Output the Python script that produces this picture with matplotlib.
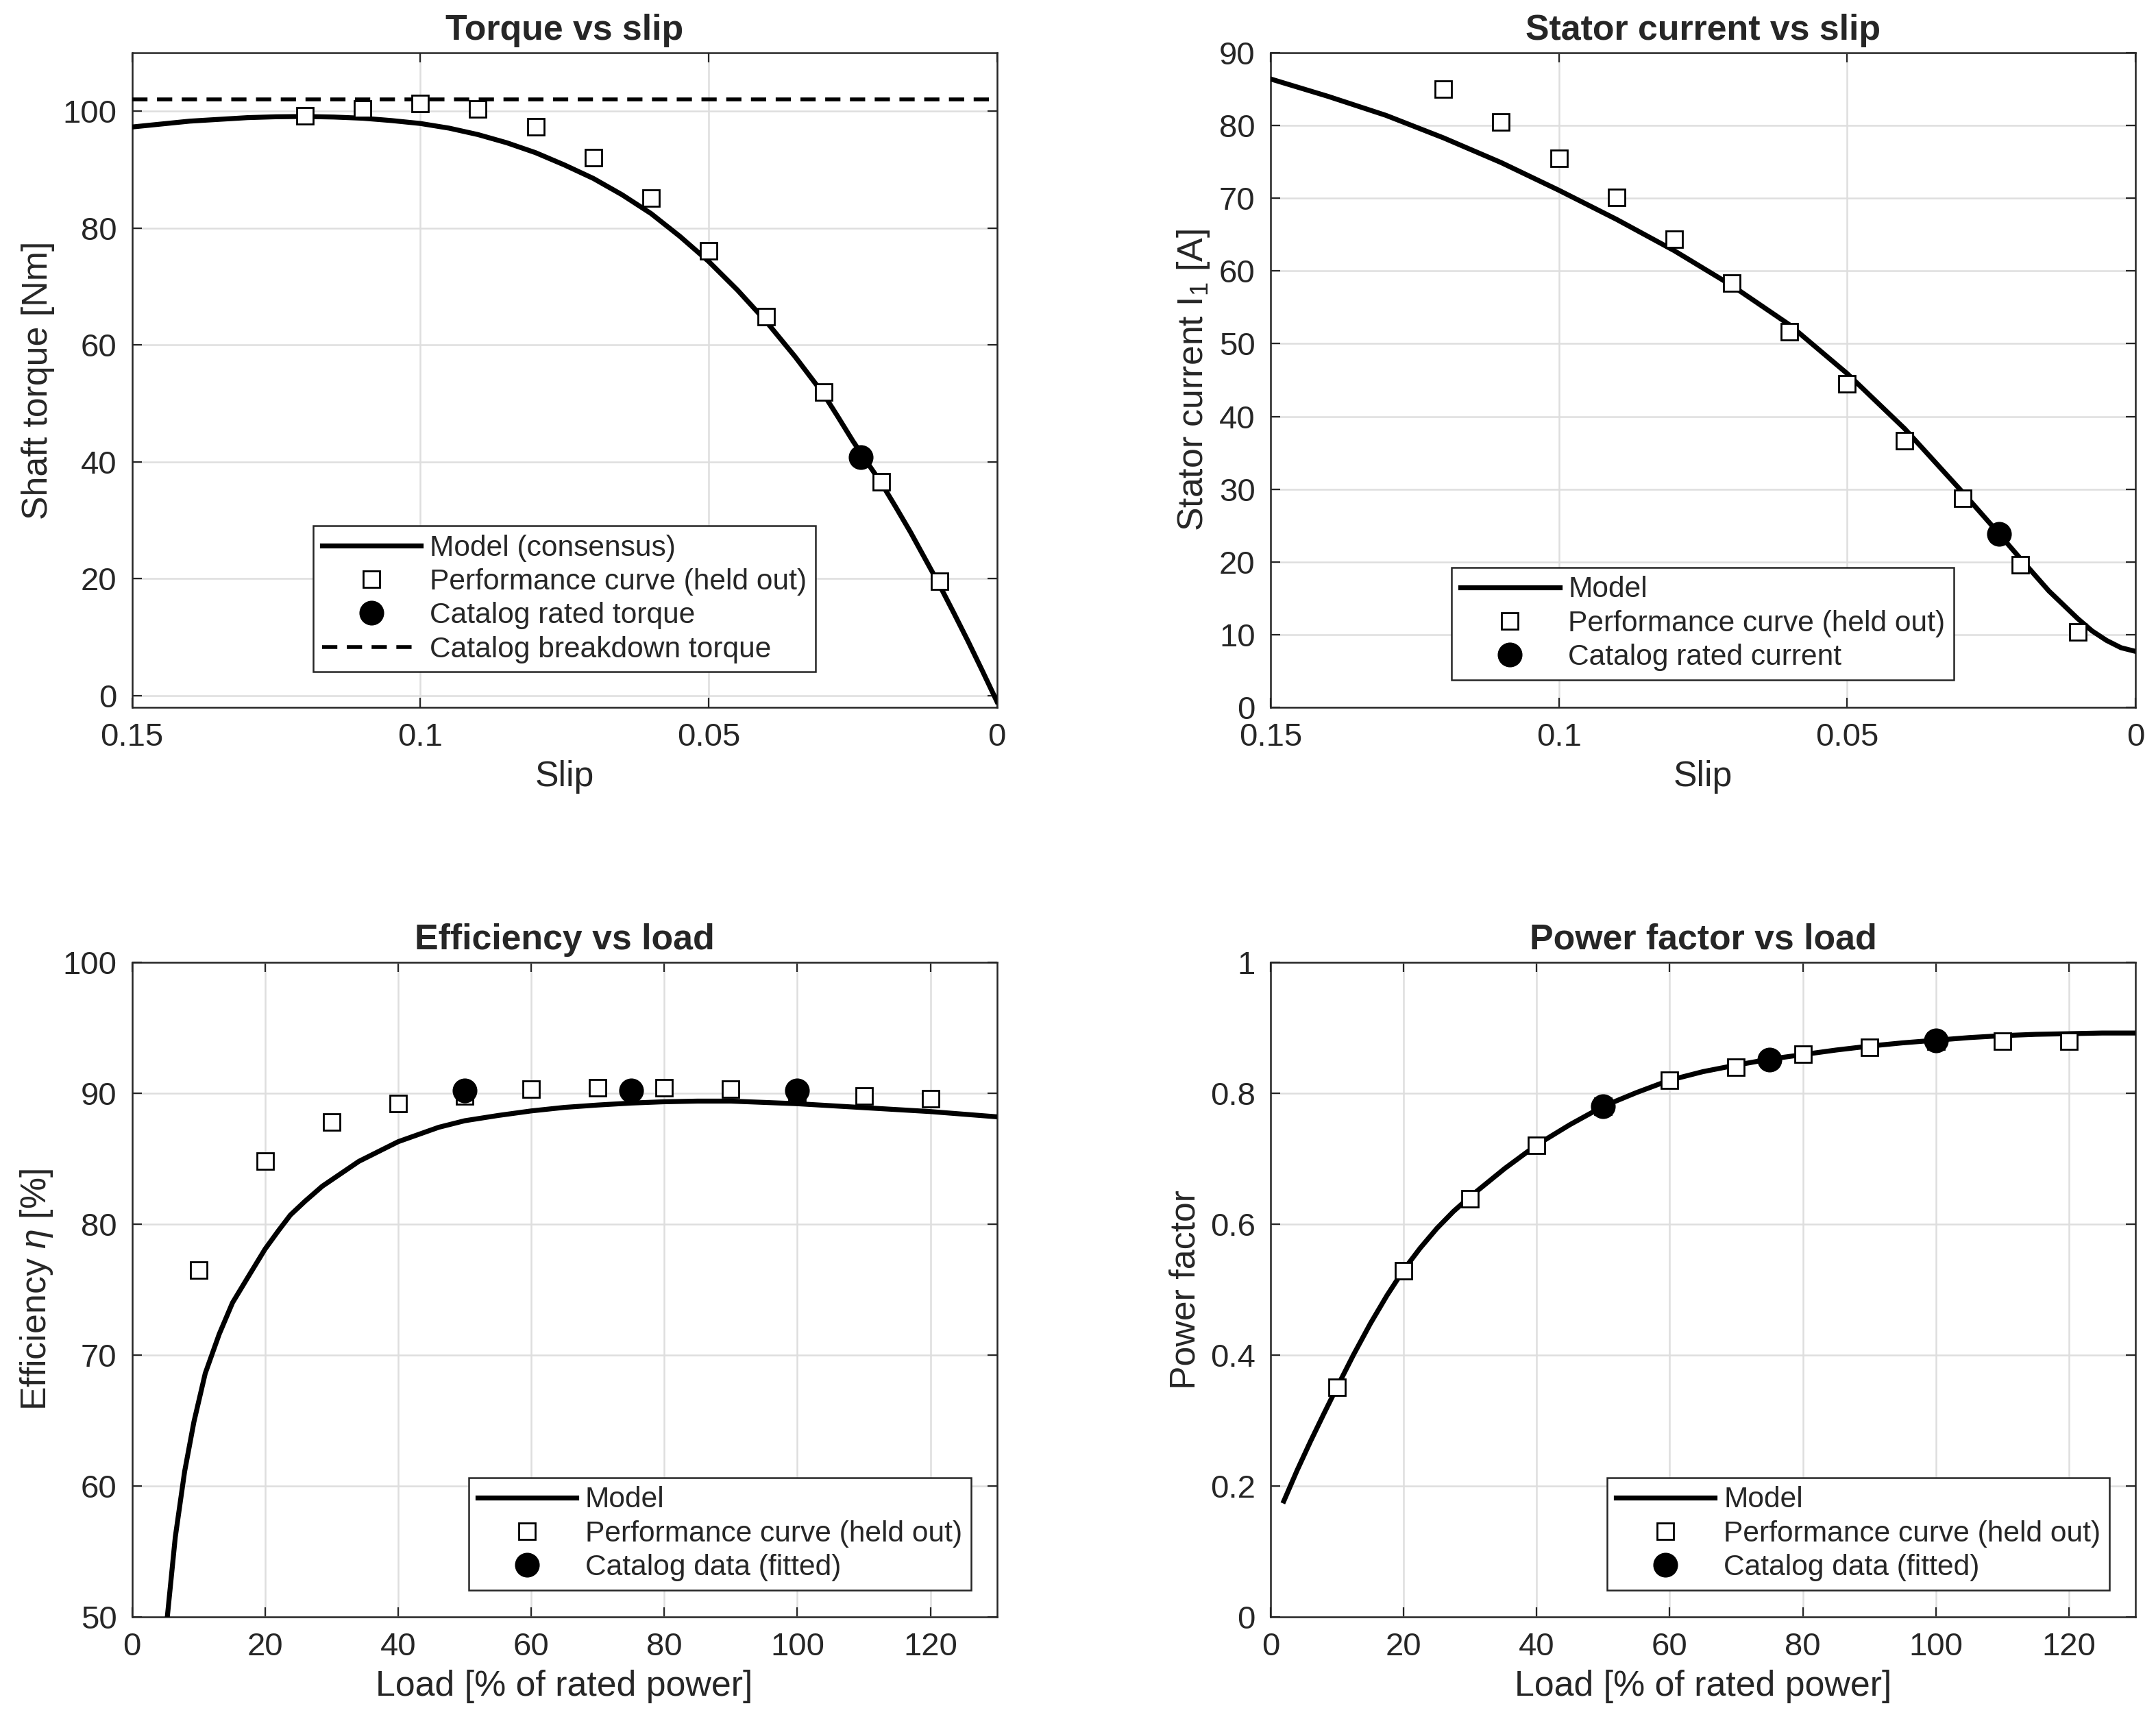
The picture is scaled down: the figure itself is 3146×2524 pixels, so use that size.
import numpy as np
import matplotlib
matplotlib.use('Agg')
import matplotlib.pyplot as plt
from matplotlib.ticker import FormatStrFormatter, MultipleLocator

plt.rcParams['font.family'] = ['Liberation Sans', 'DejaVu Sans']
plt.rcParams['mathtext.fontset'] = 'custom'
plt.rcParams['mathtext.rm'] = 'Liberation Sans'
plt.rcParams['mathtext.it'] = 'Liberation Sans:italic'

# --- Torque vs slip ---
slip_model = [0.15, 0.145, 0.14, 0.135, 0.13, 0.125, 0.12, 0.115, 0.11, 0.105, 0.10,
              0.095, 0.09, 0.085, 0.08, 0.075, 0.07, 0.065, 0.06, 0.055, 0.05,
              0.045, 0.04, 0.035, 0.03, 0.0275, 0.025, 0.0225, 0.02, 0.0175, 0.015,
              0.0125, 0.01, 0.0075, 0.005, 0.0025, 0.0]
torque_model = [97.3, 97.8, 98.3, 98.6, 98.9, 99.05, 99.1, 99.0, 98.8, 98.4, 97.9,
                97.1, 96.0, 94.6, 92.9, 90.8, 88.5, 85.7, 82.5, 78.6, 74.3,
                69.4, 64.0, 58.0, 51.5, 47.6, 43.6, 39.9, 36.3, 32.2, 28.0,
                23.5, 19.0, 14.2, 9.3, 4.2, -1.0]
slip_perf = [0.12, 0.11, 0.10, 0.09, 0.08, 0.07, 0.06, 0.05, 0.04, 0.03, 0.02, 0.01]
torque_perf = [99.2, 100.4, 101.3, 100.4, 97.3, 92.0, 85.1, 76.1, 64.8, 51.9, 36.6, 19.6]
slip_rated = [0.0236]
torque_rated = [40.8]
torque_breakdown = 102.0

# --- Stator current vs slip ---
slip_current_model = [0.15, 0.14, 0.13, 0.12, 0.11, 0.10, 0.09, 0.08, 0.07, 0.06, 0.05,
                      0.04, 0.03, 0.025, 0.02, 0.015, 0.01, 0.0075, 0.005, 0.0025, 0.0]
current_model = [86.4, 84.0, 81.4, 78.3, 74.9, 71.1, 67.1, 62.8, 58.0, 52.6, 45.9,
                 38.3, 29.6, 25.1, 20.5, 16.0, 12.2, 10.5, 9.2, 8.2, 7.7]
current_perf = [85.0, 80.5, 75.5, 70.1, 64.4, 58.3, 51.6, 44.5, 36.7, 28.7, 19.6, 10.4]
current_rated = [23.8]

# --- Efficiency vs load ---
load_eff_model = [5.0, 5.3, 6.5, 7.9, 9.3, 11.0, 13.1, 15.1, 17.6, 20, 22, 23.8, 26,
                  28.6, 34.1, 40, 46.1, 50, 55, 60, 65, 70, 75, 80, 85, 90, 95, 100,
                  105, 110, 115, 120, 125, 130]
eff_model = [48.3, 50.0, 56.1, 61.1, 64.9, 68.6, 71.6, 74.0, 76.1, 78.1, 79.5, 80.7,
             81.75, 82.9, 84.8, 86.3, 87.4, 87.9, 88.3, 88.65, 88.92, 89.1, 89.25,
             89.35, 89.4, 89.4, 89.3, 89.2, 89.05, 88.9, 88.75, 88.6, 88.4, 88.2]
load_perf = [10, 20, 30, 40, 50, 60, 70, 80, 90, 100, 110, 120]
eff_perf = [76.5, 84.8, 87.8, 89.2, 89.8, 90.3, 90.4, 90.4, 90.3, 90.0, 89.8, 89.6]
load_catalog = [50, 75, 100]
eff_catalog = [90.2, 90.2, 90.2]

# --- Power factor vs load ---
load_pf_model = [2, 4, 6, 8, 10, 12.5, 15, 17.5, 20, 22.5, 25, 27.5, 30, 35.2, 40,
                 45, 50, 55, 60, 65, 70, 75, 80, 85, 90, 95, 100, 105, 110, 115, 120,
                 125, 130]
pf_model = [0.177, 0.224, 0.268, 0.310, 0.351, 0.401, 0.448, 0.491, 0.530, 0.5635, 0.5935,
            0.6195, 0.642, 0.685, 0.721, 0.752, 0.780, 0.801, 0.820, 0.833, 0.843, 0.852,
            0.859, 0.866, 0.872, 0.877, 0.881, 0.885, 0.888, 0.890, 0.891, 0.892, 0.892]
pf_perf = [0.351, 0.529, 0.639, 0.720, 0.780, 0.820, 0.840, 0.860, 0.870, 0.880, 0.880, 0.880]
pf_catalog = [0.780, 0.851, 0.881]

txt = '#262626'
fs_tick = 17
fs_lab = 18.7
fs_leg = 15.3
sq = dict(ls='none', marker='s', ms=8.5, mfc='white', mec='black', mew=1.0)
dot = dict(ls='none', marker='o', ms=12, mfc='black', mec='black')

fig = plt.figure(figsize=(15.73, 12.62), dpi=200)
w, h = 0.40114, 0.37837
ax1 = fig.add_axes([0.06125, 0.59113, w, h])
ax2 = fig.add_axes([0.5893, 0.59113, w, h])
ax3 = fig.add_axes([0.06125, 0.06537, w, h])
ax4 = fig.add_axes([0.5893, 0.06537, w, h])


def style(ax):
    ax.grid(True, color='#dedede', lw=0.9)
    ax.set_axisbelow(True)
    ax.tick_params(direction='in', length=5, width=0.8, top=True, right=True,
                   labelsize=fs_tick, colors=txt, pad=8)
    for s in ax.spines.values():
        s.set_color(txt)
        s.set_linewidth(0.9)


def legend(ax, **kw):
    lg = ax.legend(fontsize=fs_leg, frameon=True, fancybox=False, framealpha=1,
                   edgecolor=txt, handlelength=3.4, handletextpad=0.3,
                   labelspacing=0.22, borderpad=0.3, borderaxespad=0, **kw)
    lg.get_frame().set_linewidth(0.9)
    for t in lg.get_texts():
        t.set_color(txt)


# Torque vs slip
ax1.plot(slip_model, torque_model, color='black', lw=2.6, label='Model (consensus)', zorder=3)
ax1.plot(slip_perf, torque_perf, label='Performance curve (held out)', zorder=4, **sq)
ax1.plot(slip_rated, torque_rated, label='Catalog rated torque', zorder=5, **dot)
ax1.axhline(torque_breakdown, color='black', lw=2.0, ls=(0, (4, 2.5)),
            label='Catalog breakdown torque', zorder=3)
ax1.set_xlim(0.15, 0)
ax1.set_ylim(-2, 110)
ax1.set_xticks([0.15, 0.1, 0.05, 0])
ax1.set_yticks([0, 20, 40, 60, 80, 100])
ax1.xaxis.set_major_formatter(FormatStrFormatter('%g'))
ax1.set_xlabel('Slip', fontsize=fs_lab, color=txt)
ax1.set_ylabel('Shaft torque [Nm]', fontsize=fs_lab, color=txt)
ax1.set_title('Torque vs slip', fontsize=fs_lab, fontweight='bold', color=txt, pad=7)
style(ax1)
legend(ax1, loc='lower center', bbox_to_anchor=(0.5, 0.054))

# Stator current vs slip
ax2.plot(slip_current_model, current_model, color='black', lw=2.6, label='Model', zorder=3)
ax2.plot(slip_perf, current_perf, label='Performance curve (held out)', zorder=4, **sq)
ax2.plot(slip_rated, current_rated, label='Catalog rated current', zorder=5, **dot)
ax2.set_xlim(0.15, 0)
ax2.set_ylim(0, 90)
ax2.set_xticks([0.15, 0.1, 0.05, 0])
ax2.yaxis.set_major_locator(MultipleLocator(10))
ax2.xaxis.set_major_formatter(FormatStrFormatter('%g'))
ax2.set_xlabel('Slip', fontsize=fs_lab, color=txt)
ax2.set_ylabel('Stator current I$_{\\mathrm{1}}$ [A]', fontsize=fs_lab, color=txt)
ax2.set_title('Stator current vs slip', fontsize=fs_lab, fontweight='bold', color=txt, pad=7)
style(ax2)
legend(ax2, loc='lower center', bbox_to_anchor=(0.5, 0.042))

# Efficiency vs load
ax3.plot(load_eff_model, eff_model, color='black', lw=2.6, label='Model', zorder=3)
ax3.plot(load_perf, eff_perf, label='Performance curve (held out)', zorder=4, **sq)
ax3.plot(load_catalog, eff_catalog, label='Catalog data (fitted)', zorder=5, **dot)
ax3.set_xlim(0, 130)
ax3.set_ylim(50, 100)
ax3.set_xticks([0, 20, 40, 60, 80, 100, 120])
ax3.yaxis.set_major_locator(MultipleLocator(10))
ax3.set_xlabel('Load [% of rated power]', fontsize=fs_lab, color=txt)
ax3.set_ylabel('Efficiency $\\it{\\eta}$ [%]', fontsize=fs_lab, color=txt)
ax3.set_title('Efficiency vs load', fontsize=fs_lab, fontweight='bold', color=txt, pad=7)
style(ax3)
legend(ax3, loc='lower right', bbox_to_anchor=(0.97, 0.041))

# Power factor vs load
ax4.plot(load_pf_model, pf_model, color='black', lw=2.6, label='Model', zorder=3)
ax4.plot(load_perf, pf_perf, label='Performance curve (held out)', zorder=4, **sq)
ax4.plot(load_catalog, pf_catalog, label='Catalog data (fitted)', zorder=5, **dot)
ax4.set_xlim(0, 130)
ax4.set_ylim(0, 1)
ax4.set_xticks([0, 20, 40, 60, 80, 100, 120])
ax4.set_yticks([0, 0.2, 0.4, 0.6, 0.8, 1])
ax4.yaxis.set_major_formatter(FormatStrFormatter('%g'))
ax4.set_xlabel('Load [% of rated power]', fontsize=fs_lab, color=txt)
ax4.set_ylabel('Power factor', fontsize=fs_lab, color=txt)
ax4.set_title('Power factor vs load', fontsize=fs_lab, fontweight='bold', color=txt, pad=7)
style(ax4)
legend(ax4, loc='lower right', bbox_to_anchor=(0.97, 0.041))

fig.savefig('out.png', dpi=200, facecolor='white')
